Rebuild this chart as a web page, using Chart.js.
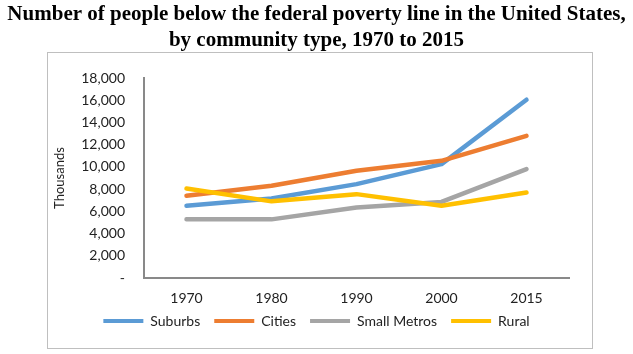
<!DOCTYPE html>
<html>
<head>
<meta charset="utf-8">
<script src="https://cdn.jsdelivr.net/npm/chart.js@4/dist/chart.umd.min.js"></script>
<style>
    html, body { margin: 0; padding: 0; background: #fff; }
    #wrap { width: 633px; height: 354px; position: relative; }
</style>
</head>
<body>
<div id="wrap"><canvas id="povertyChart"></canvas></div>
<script>
    const years = ['1970', '1980', '1990', '2000', '2015'];
    const suburbs = [6500, 7150, 8450, 10250, 16050];
    const cities = [7400, 8300, 9650, 10550, 12800];
    const smallMetros = [5300, 5280, 6350, 6850, 9800];
    const rural = [8050, 6900, 7550, 6500, 7700];
    const yTicks = [0, 2000, 4000, 6000, 8000, 10000, 12000, 14000, 16000, 18000];

    const titleLines = [
        'Number of people below the federal poverty line in the United States,',
        'by community type, 1970 to 2015'
    ];

    const frame = {
        id: 'frame',
        beforeDraw(chart) {
            const ctx = chart.ctx;
            ctx.save();
            ctx.fillStyle = '#fff';
            ctx.fillRect(0, 0, chart.width, chart.height);
            ctx.strokeStyle = '#bfbfbf';
            ctx.lineWidth = 1;
            ctx.strokeRect(47.5, 52.5, 545, 296);
            ctx.restore();
        }
    };

    // legend padding also sets the vertical gap, so pull the legend up a bit
    const liftLegend = {
        id: 'liftLegend',
        afterLayout(chart) {
            chart.legend.top -= 8;
            chart.legend.bottom -= 8;
        }
    };

    function series(label, data, color, order) {
        return {
            label,
            data,
            borderColor: color,
            backgroundColor: color,
            borderWidth: 4.5,
            borderCapStyle: 'round',
            borderJoinStyle: 'round',
            pointRadius: 0,
            pointHoverRadius: 0,
            tension: 0,
            order
        };
    }

    new Chart(document.getElementById('povertyChart'), {
        type: 'line',
        data: {
            labels: years,
            datasets: [
                series('Suburbs', suburbs, '#5b9bd5', 3),
                series('Cities', cities, '#ed7d31', 2),
                series('Small Metros', smallMetros, '#a5a5a5', 1),
                series('Rural', rural, '#ffc000', 0)
            ]
        },
        options: {
            responsive: true,
            maintainAspectRatio: false,
            animation: false,
            layout: { padding: { left: 0, right: 0, top: 0, bottom: 8 } },
            plugins: {
                title: {
                    display: true,
                    text: titleLines,
                    color: '#000',
                    font: { family: 'Liberation Serif', size: 21, weight: 'bold', lineHeight: 1.24 },
                    padding: { top: 2, bottom: 24 }
                },
                legend: {
                    position: 'bottom',
                    labels: {
                        boxWidth: 40,
                        boxHeight: 4,
                        padding: 14,
                        useBorderRadius: true,
                        borderRadius: 2,
                        color: '#222',
                        font: { family: 'Lato', size: 14 },
                        generateLabels(chart) {
                            return chart.data.datasets.map((ds, i) => ({
                                text: ds.label,
                                fillStyle: ds.borderColor,
                                strokeStyle: ds.borderColor,
                                lineWidth: 0,
                                hidden: false,
                                fontColor: '#222',
                                datasetIndex: i
                            }));
                        }
                    }
                },
                tooltip: { enabled: false }
            },
            scales: {
                x: {
                    offset: true,
                    afterFit(scale) {
                        scale.height = 30;
                    },
                    grid: { display: false, drawTicks: false },
                    border: { color: '#898989', width: 2 },
                    ticks: { color: '#222', padding: 12, font: { family: 'Lato', size: 14 } }
                },
                y: {
                    min: 0,
                    max: 18000,
                    afterBuildTicks(scale) {
                        scale.ticks = yTicks.map(v => ({ value: v }));
                    },
                    afterFit(scale) {
                        scale.width = 144;
                    },
                    grid: { display: false, drawTicks: false },
                    border: { color: '#898989', width: 2 },
                    ticks: {
                        color: '#222',
                        padding: 19,
                        font: { family: 'Lato', size: 14 },
                        callback: v => (v === 0 ? '-' : v.toLocaleString('en-US'))
                    },
                    title: {
                        display: true,
                        text: 'Thousands',
                        color: '#222',
                        font: { family: 'Lato', size: 13 },
                        padding: { top: 52 }
                    }
                },
                // empty scale on the right only to hold space, so title and legend stay centred
                spacer: {
                    type: 'linear',
                    position: 'right',
                    afterFit(scale) {
                        scale.width = 64;
                    },
                    grid: { display: false, drawTicks: false },
                    border: { display: false },
                    ticks: { display: false }
                }
            }
        },
        plugins: [frame, liftLegend]
    });
</script>
</body>
</html>
